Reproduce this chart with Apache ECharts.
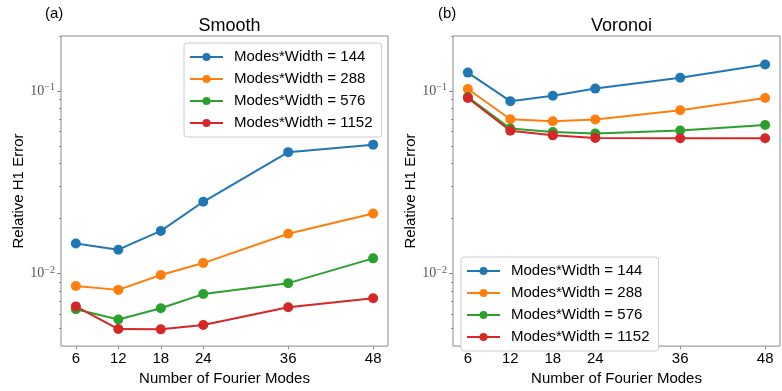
<!DOCTYPE html>
<html>
<head>
<meta charset="utf-8">
<script src="https://cdn.jsdelivr.net/npm/echarts@6/dist/echarts.min.js"></script>
<style>html,body{margin:0;padding:0;background:#fff}#c{width:782px;height:391px}</style>
</head>
<body>
<div id="c"></div>
<script>
const modes = [6, 12, 18, 24, 36, 48];
const seriesNames = ['Modes*Width = 144', 'Modes*Width = 288', 'Modes*Width = 576', 'Modes*Width = 1152'];
const colors = ['#1f77b4', '#ff7f0e', '#2ca02c', '#d62728'];

const smooth144 = [0.0146, 0.0135, 0.0171, 0.0247, 0.0462, 0.0508];
const smooth288 = [0.00853, 0.00813, 0.0098, 0.0114, 0.0165, 0.0213];
const smooth576 = [0.00637, 0.0056, 0.00645, 0.00771, 0.00885, 0.0121];
const smooth1152 = [0.0066, 0.00496, 0.00494, 0.00522, 0.00653, 0.00732];

const voronoi144 = [0.126, 0.0879, 0.0941, 0.103, 0.118, 0.1396];
const voronoi288 = [0.1025, 0.070, 0.0683, 0.0697, 0.0784, 0.0915];
const voronoi576 = [0.0926, 0.0622, 0.0595, 0.0585, 0.0607, 0.0651];
const voronoi1152 = [0.0915, 0.0605, 0.0571, 0.0553, 0.0551, 0.0551];

const xTicks = [6, 12, 18, 24, 36, 48];
const yMajorTicks = [0.01, 0.1];
const yMinorTicks = [0.005, 0.006, 0.007, 0.008, 0.009, 0.02, 0.03, 0.04, 0.05, 0.06, 0.07, 0.08, 0.09, 0.2];
const yMin = 0.004, yMax = 0.2;
const xMin = 3.9, xMax = 50.1;

const smoothData = [smooth144, smooth288, smooth576, smooth1152];
const voronoiData = [voronoi144, voronoi288, voronoi576, voronoi1152];

const SANS = 'Liberation Sans, Arial, sans-serif';
const SERIF = 'Liberation Serif, DejaVu Serif, serif';
const GREY = '#8a8a8a';

const grids = [
  {left: 61, top: 36, width: 327, height: 319},
  {left: 453, top: 36, width: 327, height: 319}
];

function xAxisFor(i) {
  return {
    type: 'value', gridIndex: i, min: xMin, max: xMax,
    name: 'Number of Fourier Modes', nameLocation: 'middle', nameGap: 22,
    nameTextStyle: {fontFamily: SANS, fontSize: 15, color: '#000'},
    axisLine: {show: false},
    splitLine: {show: false},
    axisTick: {show: true, length: 3, customValues: xTicks, lineStyle: {color: GREY}},
    axisLabel: {customValues: xTicks, fontFamily: SANS, fontSize: 15, color: '#000', margin: 5}
  };
}
function yAxisMain(i) {
  return {
    type: 'log', logBase: 10, gridIndex: i, min: yMin, max: yMax, position: 'left',
    name: 'Relative H1 Error', nameLocation: 'middle', nameGap: 34,
    nameTextStyle: {fontFamily: SANS, fontSize: 15, color: '#000'},
    axisLine: {show: false},
    splitLine: {show: false},
    minorTick: {show: false},
    axisTick: {show: true, length: 4, customValues: yMajorTicks, lineStyle: {color: GREY}},
    axisLabel: {
      customValues: yMajorTicks, margin: 6,
      formatter: function (v) {
        const e = Math.round(Math.log10(v));
        return '{b|10}{s|\u2212' + (-e) + '}';
      },
      rich: {
        b: {fontFamily: SERIF, fontSize: 14, color: '#555'},
        s: {fontFamily: SERIF, fontSize: 10, color: '#555', padding: [0, 0, 7, 0]}
      }
    }
  };
}
function yAxisMinor(i) {
  return {
    type: 'log', logBase: 10, gridIndex: i, min: yMin, max: yMax, position: 'left', offset: 0,
    axisLine: {show: false},
    splitLine: {show: false},
    axisTick: {show: true, length: 2, customValues: yMinorTicks, lineStyle: {color: GREY}},
    axisLabel: {show: false}
  };
}

const series = [];
[smoothData, voronoiData].forEach(function (set, g) {
  set.forEach(function (vals, k) {
    series.push({
      type: 'line', name: seriesNames[k], xAxisIndex: g, yAxisIndex: g * 2,
      data: modes.map(function (m, j) { return [m, vals[j]]; }),
      symbol: 'circle', symbolSize: 10,
      color: colors[k],
      lineStyle: {width: 2, color: colors[k]},
      itemStyle: {color: colors[k]},
      emphasis: {disabled: true},
      animation: false
    });
  });
});

function legendFor(left, top) {
  return {
    data: seriesNames, orient: 'vertical', left: left, top: top,
    backgroundColor: '#fff', borderColor: '#cccccc', borderWidth: 1, borderRadius: 3,
    padding: [6, 9, 6, 5], itemGap: 6, itemWidth: 33, itemHeight: 10,
    selectedMode: false,
    textStyle: {fontFamily: SANS, fontSize: 15, color: '#000', lineHeight: 16, padding: [0, 0, 0, 6]}
  };
}

const chart = echarts.init(document.getElementById('c'), null, {renderer: 'canvas'});
chart.setOption({
  animation: false,
  backgroundColor: '#fff',
  grid: grids.map(function (g) { return Object.assign({show: true, borderColor: GREY, borderWidth: 1, backgroundColor: 'transparent'}, g); }),
  title: [
    {text: 'Smooth', left: 224.5, top: 12, textAlign: 'center', textStyle: {fontFamily: SANS, fontSize: 18, fontWeight: 'normal', color: '#000'}},
    {text: 'Voronoi', left: 616.5, top: 12, textAlign: 'center', textStyle: {fontFamily: SANS, fontSize: 18, fontWeight: 'normal', color: '#000'}},
    {text: '(a)', left: 40, top: 1, textStyle: {fontFamily: SANS, fontSize: 15, fontWeight: 'normal', color: '#000'}},
    {text: '(b)', left: 433, top: 1, textStyle: {fontFamily: SANS, fontSize: 15, fontWeight: 'normal', color: '#000'}}
  ],
  legend: [legendFor(184, 43), legendFor(461, 257)],
  xAxis: [xAxisFor(0), xAxisFor(1)],
  yAxis: [yAxisMain(0), yAxisMinor(0), yAxisMain(1), yAxisMinor(1)],
  series: series
});
</script>
</body>
</html>
